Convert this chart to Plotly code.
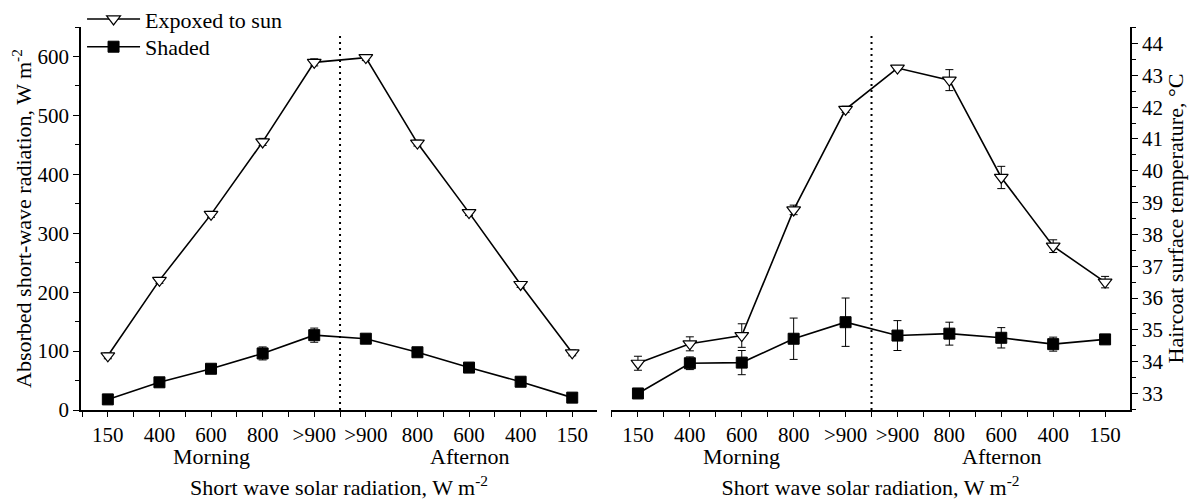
import plotly.graph_objects as go

# ---- data ----
categories = ["150", "400", "600", "800", ">900", ">900", "800", "600", "400", "150"]
positions = list(range(len(categories)))

absorbed_sun = [92, 220, 332, 455, 590, 598, 453, 335, 213, 97]
absorbed_sun_err = [5, 5, 5, 6, 6, 5, 5, 5, 5, 5]
absorbed_shade = [18, 47, 70, 96, 127, 121, 98, 72, 48, 21]
absorbed_shade_err = [3, 3, 4, 11, 12, 5, 4, 4, 4, 3]

temp_sun = [33.95, 34.56, 34.82, 38.77, 41.93, 43.23, 42.85, 39.79, 37.63, 36.50]
temp_sun_err = [0.22, 0.22, 0.37, 0.15, 0.10, 0.08, 0.33, 0.35, 0.20, 0.18]
temp_shade = [33.00, 33.95, 33.97, 34.72, 35.24, 34.82, 34.88, 34.75, 34.55, 34.70]
temp_shade_err = [0.05, 0.20, 0.38, 0.65, 0.76, 0.47, 0.36, 0.32, 0.22, 0.08]

period_labels = ["Morning", "Afternon"]
period_positions = [2, 7]

FONT = "Liberation Serif"
BLACK = "#000000"
TICK = 21
TITLE = 22

fig = go.Figure()

def add_pair(sun, sun_err, shade, shade_err, xa, ya, show):
    fig.add_trace(go.Scatter(
        x=positions, y=sun, name="Expoxed to sun", xaxis=xa, yaxis=ya,
        mode="lines+markers", showlegend=show, legend="legend",
        line=dict(color=BLACK, width=1.6),
        marker=dict(symbol="triangle-down", size=12, color="white",
                    line=dict(color=BLACK, width=1.2)),
        error_y=dict(type="data", array=sun_err, color=BLACK, thickness=1, width=4),
    ))
    fig.add_trace(go.Scatter(
        x=positions, y=shade, name="Shaded", xaxis=xa, yaxis=ya,
        mode="lines+markers", showlegend=show, legend="legend2",
        line=dict(color=BLACK, width=1.6),
        marker=dict(symbol="square", size=11, color=BLACK,
                    line=dict(color=BLACK, width=1)),
        error_y=dict(type="data", array=shade_err, color=BLACK, thickness=1, width=4),
    ))

add_pair(absorbed_sun, absorbed_sun_err, absorbed_shade, absorbed_shade_err, "x", "y", True)
add_pair(temp_sun, temp_sun_err, temp_shade, temp_shade_err, "x2", "y2", False)

xcommon = dict(
    tickmode="array", tickvals=positions, ticktext=categories,
    range=[-0.52, 9.48], showline=True, linecolor=BLACK, linewidth=1.5,
    ticks="outside", ticklen=5, tickwidth=1.2, tickcolor=BLACK,
    minor=dict(tickmode="array", tickvals=[p + 0.5 for p in range(-1, 10)],
               ticks="outside", ticklen=5, tickwidth=1.2, tickcolor=BLACK),
    showgrid=False, zeroline=False, mirror=False,
    tickfont=dict(family=FONT, size=TICK, color=BLACK),
    title=dict(text="Short wave solar radiation, W m<sup>-2</sup>",
               font=dict(family=FONT, size=TITLE, color=BLACK), standoff=34),
    automargin=False,
)

legend_common = dict(
    xanchor="left", yanchor="middle",
    bgcolor="rgba(0,0,0,0)", borderwidth=0,
    font=dict(family=FONT, size=TITLE, color=BLACK),
    itemwidth=53,
)

fig.update_layout(
    width=1189, height=495,
    margin=dict(l=73, r=67, t=19, b=93, autoexpand=False),
    paper_bgcolor="white", plot_bgcolor="white",
    font=dict(family=FONT, color=BLACK),
    xaxis=dict(domain=[0, 0.4919], anchor="y", **xcommon),
    xaxis2=dict(domain=[0.5052, 1], anchor="y2", **xcommon),
    yaxis=dict(
        range=[0, 650], anchor="x", showline=True, linecolor=BLACK, linewidth=1.5,
        ticks="outside", ticklen=6, tickwidth=1.2, tickcolor=BLACK,
        tickmode="linear", tick0=0, dtick=100,
        minor=dict(tickmode="linear", dtick=50, ticks="outside", ticklen=4,
                   tickwidth=1.2, tickcolor=BLACK),
        showgrid=False, zeroline=False,
        tickfont=dict(family=FONT, size=TICK, color=BLACK),
        title=dict(text="Absorbed short-wave radiation, W m<sup>-2</sup>",
                   font=dict(family=FONT, size=TITLE, color=BLACK), standoff=6),
        automargin=False,
    ),
    yaxis2=dict(
        range=[32.48, 44.52], anchor="x2", side="right", showline=True,
        linecolor=BLACK, linewidth=1.5,
        ticks="outside", ticklen=6, tickwidth=1.2, tickcolor=BLACK,
        tickmode="linear", tick0=33, dtick=1,
        minor=dict(tickmode="linear", dtick=0.5, ticks="outside", ticklen=4,
                   tickwidth=1.2, tickcolor=BLACK),
        showgrid=False, zeroline=False,
        tickfont=dict(family=FONT, size=TICK, color=BLACK),
        title=dict(text="Haircoat surface temperature, °C",
                   font=dict(family=FONT, size=TITLE, color=BLACK), standoff=4),
        automargin=False,
    ),
    legend=dict(x=0.001, y=1.0205, **legend_common),
    legend2=dict(x=0.001, y=0.948, **legend_common),
    showlegend=True,
)

# dotted separators between morning and afternoon
for xr, yr in (("x", "y domain"), ("x2", "y2 domain")):
    fig.add_shape(type="line", xref=xr, yref=yr, x0=4.5, x1=4.5, y0=0, y1=0.984,
                  line=dict(color=BLACK, width=2, dash="2px,4px"))

# Morning / Afternon labels under the tick labels
for xr in ("x", "x2"):
    for lab, pos in zip(period_labels, period_positions):
        fig.add_annotation(x=pos, y=-0.121, xref=xr, yref="paper", text=lab,
                           showarrow=False, yanchor="middle",
                           font=dict(family=FONT, size=TITLE, color=BLACK))

fig.write_html("out.html")
